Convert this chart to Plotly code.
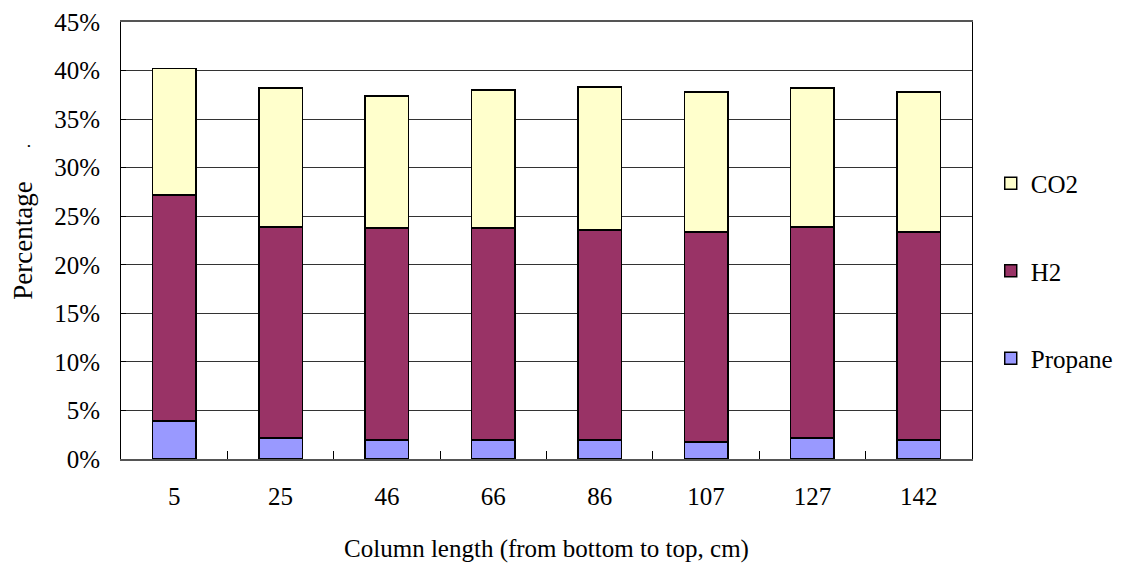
import plotly.graph_objects as go

categories = ["5", "25", "46", "66", "86", "107", "127", "142"]
propane = [3.9, 2.15, 1.95, 1.95, 1.95, 1.75, 2.15, 1.95]
h2 = [23.3, 21.75, 21.85, 21.85, 21.65, 21.65, 21.75, 21.45]
co2 = [13.0, 14.3, 13.6, 14.2, 14.7, 14.4, 14.3, 14.4]
y_ticks = [0, 5, 10, 15, 20, 25, 30, 35, 40, 45]

FONT = "Liberation Serif"
fig = go.Figure()
series = [("Propane", propane, "#9999FF", 3), ("H2", h2, "#993366", 2), ("CO2", co2, "#FFFFCC", 1)]
for name, vals, col, rank in series:
    fig.add_trace(go.Bar(
        x=categories, y=vals, name=name, legendgroup=name, legendrank=rank,
        marker=dict(color=col, line=dict(color="black", width=1.5)),
    ))

fig.update_layout(
    width=1130, height=573,
    barmode="stack", bargap=0.59,
    paper_bgcolor="white", plot_bgcolor="white",
    margin=dict(l=113, r=166, t=14, b=122),
    font=dict(family=FONT, size=25, color="black"),
    legend=dict(x=1.022, y=0.43, xanchor="left", yanchor="middle",
                traceorder="grouped", tracegroupgap=52,
                font=dict(size=25, family=FONT)),
    xaxis=dict(type="category", tickson="boundaries", ticks="inside", ticklen=8,
               tickcolor="black", showline=True, linecolor="#555", linewidth=2,
               mirror=True, showgrid=False, automargin=False,
               title=dict(text="Column length (from bottom to top, cm)", standoff=30,
                          font=dict(size=25)),
               ticklabelstandoff=14),
    yaxis=dict(range=[0, 45], tickvals=y_ticks, ticktext=[f"{v}%" for v in y_ticks],
               ticks="inside", ticklen=5, tickcolor="black", automargin=False,
               showline=True, linecolor="black", linewidth=1, mirror=True,
               showgrid=True, gridcolor="#333", gridwidth=1,
               title=dict(text="Percentage", standoff=15, font=dict(size=27)),
               ticklabelstandoff=15, zeroline=False),
    showlegend=True,
)
fig.add_annotation(text=".", x=-0.114, y=0.718, xref="paper", yref="paper",
                   xanchor="center", yanchor="middle", showarrow=False,
                   font=dict(size=18, family=FONT), textangle=-90)

fig.write_html("out.html")
